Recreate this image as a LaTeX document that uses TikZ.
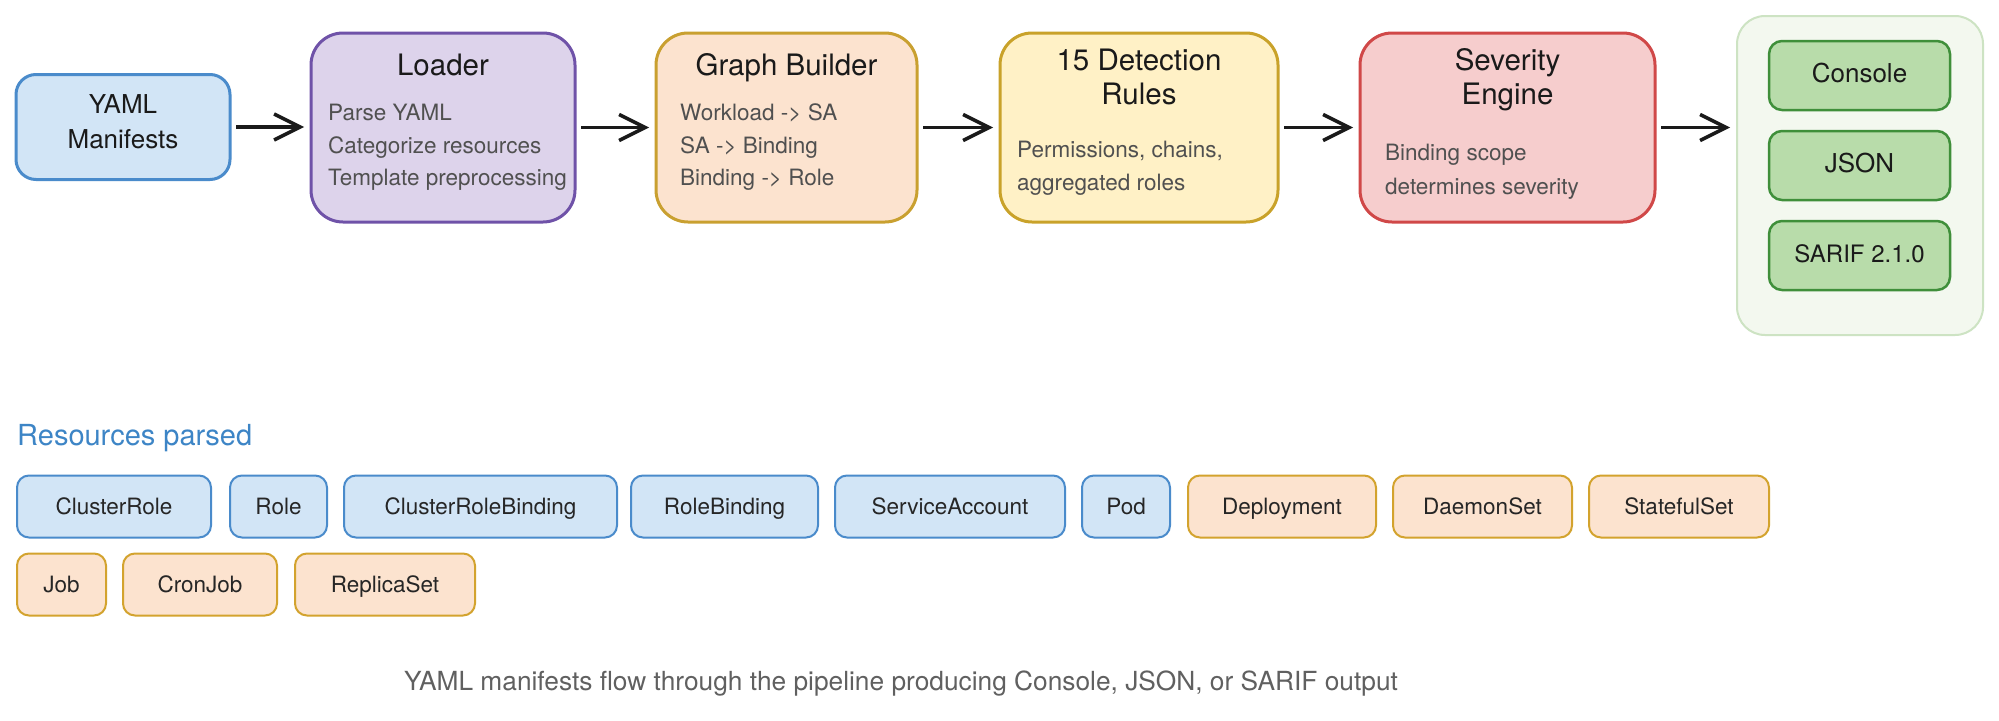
\documentclass[tikz,border=0pt]{standalone}
\usepackage{fontspec}
\setmainfont{TeX Gyre Heros}
\usetikzlibrary{arrows.meta,calc}
\definecolor{yamlfill}{HTML}{D2E5F6}
\definecolor{yamlline}{HTML}{4A8BCB}
\definecolor{loadfill}{HTML}{DDD3EB}
\definecolor{loadline}{HTML}{6F52A8}
\definecolor{graphfill}{HTML}{FCE3CF}
\definecolor{graphline}{HTML}{C9A030}
\definecolor{detfill}{HTML}{FFF1C6}
\definecolor{detline}{HTML}{C9A22A}
\definecolor{sevfill}{HTML}{F6CDCD}
\definecolor{sevline}{HTML}{D04848}
\definecolor{outfill}{HTML}{F3F8EF}
\definecolor{outline}{HTML}{CDE3C3}
\definecolor{grnfill}{HTML}{B8DCAA}
\definecolor{grnline}{HTML}{3F8F3A}
\definecolor{orfill}{HTML}{FCE3CF}
\definecolor{orline}{HTML}{D3A32E}
\definecolor{titlec}{HTML}{1A1A1A}
\definecolor{bodyc}{HTML}{505050}
\definecolor{chipc}{HTML}{262626}
\definecolor{capc}{HTML}{606060}
\definecolor{resc}{HTML}{3D85C6}
\definecolor{arrc}{HTML}{1A1A1A}
\newcommand\fsz[2]{\fontsize{#1}{#2}\selectfont}
\begin{document}
\begin{tikzpicture}[x=1pt,y=-1pt,
  stage/.style={draw, line width=3pt, rounded corners=32pt, inner sep=0pt, outer sep=0pt, minimum height=189},
  title/.style={font=\fsz{29.5}{35}, text=titlec, inner sep=0pt, anchor=base},
  body/.style={font=\fsz{22.5}{32}, text=bodyc, inner sep=0pt, anchor=base west},
  outbox/.style={draw=grnline, fill=grnfill, line width=2.5pt, rounded corners=13pt, inner sep=0pt, outer sep=0pt, minimum width=181, minimum height=69, text=titlec, text height=18pt, text depth=4pt},
  chip/.style={draw, line width=2pt, rounded corners=12pt, inner sep=0pt, outer sep=0pt, minimum height=62, font=\fsz{22.5}{27}, text=chipc, text height=16.2pt, text depth=0pt},
  bchip/.style={chip, draw=yamlline, fill=yamlfill},
  ochip/.style={chip, draw=orline, fill=orfill},
  arr/.style={draw=arrc, line width=3.5pt, -{Straight Barb[length=26pt,width=26pt]}, shorten <=6pt, shorten >=7pt}
]
\useasboundingbox[fill=white] (0,0) rectangle (1999,720);

% pipeline stages
\node[draw=yamlline, fill=yamlfill, line width=3pt, rounded corners=20pt, inner sep=0pt, outer sep=0pt, minimum width=214, minimum height=105] (yaml) at (123,127) {};
\node[title, font=\fsz{26}{31}] (yamlT1) at (123,113) {YAML};
\node[title, font=\fsz{26}{31}] (yamlT2) at (123,148) {Manifests};

\node[stage, draw=loadline, fill=loadfill, minimum width=264] (loader) at (443,127.5) {};
\node[title] (loaderT) at (443,75) {Loader};
\node[body] (loaderB1) at (328,120) {Parse YAML};
\node[body] (loaderB2) at (328,153) {Categorize resources};
\node[body] (loaderB3) at (328,185) {Template preprocessing};

\node[stage, draw=graphline, fill=graphfill, minimum width=261] (graph) at (786.5,127.5) {};
\node[title] (graphT) at (786.5,75) {Graph Builder};
\node[body] (graphB1) at (680,120) {Workload -> SA};
\node[body] (graphB2) at (680,153) {SA -> Binding};
\node[body] (graphB3) at (680,185) {Binding -> Role};

\node[stage, draw=detline, fill=detfill, minimum width=278] (det) at (1139,127.5) {};
\node[title] (detT1) at (1139,70) {15 Detection};
\node[title] (detT2) at (1139,104) {Rules};
\node[body] (detB1) at (1017,157) {Permissions, chains,};
\node[body] (detB2) at (1017,190) {aggregated roles};

\node[stage, draw=sevline, fill=sevfill, minimum width=295] (sev) at (1507.5,127.5) {};
\node[title] (sevT1) at (1507.5,70) {Severity};
\node[title] (sevT2) at (1507.5,104) {Engine};
\node[body] (sevB1) at (1385,160) {Binding scope};
\node[body] (sevB2) at (1385,194) {determines severity};

% outputs
\node[draw=outline, fill=outfill, line width=2pt, rounded corners=28pt, inner sep=0pt, outer sep=0pt, minimum width=246, minimum height=319] (out) at (1860,175.5) {};
\node[outbox, font=\fsz{26}{31}] (console) at (1859.5,75.5) {Console};
\node[outbox, font=\fsz{26}{31}] (json) at (1859.5,165.5) {JSON};
\node[outbox, font=\fsz{24}{29}, text height=17pt] (sarif) at (1859.5,255.5) {SARIF 2.1.0};

% connectors
\draw[arr] (yaml.east) -- (yaml.east -| loader.west);
\draw[arr] (loader.east) -- (loader.east -| graph.west);
\draw[arr] (graph.east) -- (graph.east -| det.west);
\draw[arr] (det.east) -- (det.east -| sev.west);
\draw[arr] (sev.east) -- (sev.east -| out.west);

% resources
\node[inner sep=0pt, anchor=base west, font=\fsz{29}{35}, text=resc] (res) at (17,445) {Resources parsed};

\node[bchip, minimum width=194] (c1) at (114,506.5) {ClusterRole};
\node[bchip, minimum width=97] (c2) at (278.5,506.5) {Role};
\node[bchip, minimum width=273] (c3) at (480.5,506.5) {ClusterRoleBinding};
\node[bchip, minimum width=187] (c4) at (724.5,506.5) {RoleBinding};
\node[bchip, minimum width=230] (c5) at (950,506.5) {ServiceAccount};
\node[bchip, minimum width=88] (c6) at (1126,506.5) {Pod};
\node[ochip, minimum width=188] (c7) at (1282,506.5) {Deployment};
\node[ochip, minimum width=179] (c8) at (1482.5,506.5) {DaemonSet};
\node[ochip, minimum width=180] (c9) at (1679,506.5) {StatefulSet};
\node[ochip, minimum width=89] (c10) at (61.5,584.5) {Job};
\node[ochip, minimum width=154] (c11) at (200,584.5) {CronJob};
\node[ochip, minimum width=180] (c12) at (385,584.5) {ReplicaSet};

\node[inner sep=0pt, anchor=base, font=\fsz{26.3}{31}, text=capc] (cap) at (901,690) {YAML manifests flow through the pipeline producing Console, JSON, or SARIF output};
\end{tikzpicture}
\end{document}
